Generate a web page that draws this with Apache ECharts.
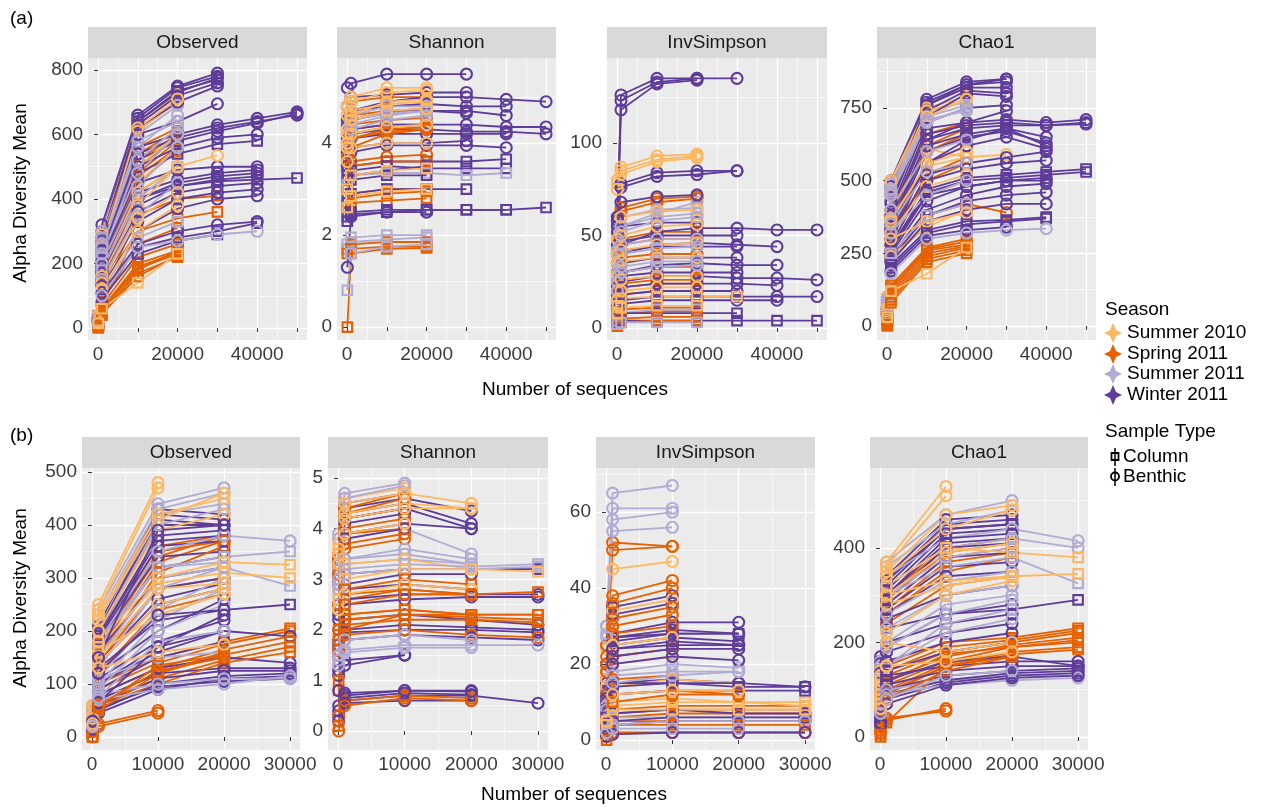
<!DOCTYPE html>
<html><head><meta charset="utf-8">
<script src="https://cdn.jsdelivr.net/npm/echarts@6/dist/echarts.min.js"></script>
<style>html,body{margin:0;padding:0;background:#fff}#c{width:1263px;height:807px}</style>
</head><body><div id="c"></div>
<script>
// ---------- categories / legend ----------
const seasons = ['Summer 2010', 'Spring 2011', 'Summer 2011', 'Winter 2011'];
const seasonColors = ['#FDB863', '#E66101', '#B2ABD2', '#5E3C99'];
const sampleTypes = ['Column', 'Benthic'];
const metrics = ['Observed', 'Shannon', 'InvSimpson', 'Chao1'];

// ---------- rarefaction depths (x values) ----------
const depthsA = [100, 1000, 10000, 20000, 30000, 40000, 50000];
const depthsB = [100, 1000, 10000, 20000, 30000];

// ---------- tick labels ----------
const xLabelsA = [0, 20000, 40000];
const xLabelsB = [0, 10000, 20000, 30000];
const yLabelsA = [[0, 200, 400, 600, 800], [0, 2, 4], [0, 50, 100], [0, 250, 500, 750]];
const yLabelsB = [[0, 100, 200, 300, 400, 500], [0, 1, 2, 3, 4, 5], [0, 20, 40, 60], [0, 200, 400]];

// ---------- series values: [season index, sample type (C=Column, B=Benthic), values at depths...] ----------
const aObserved = [
  [0,'B',40,290,640,725],[0,'B',35,260,610,700],[0,'B',35,250,620,710],[0,'B',30,220,500,600],[0,'B',30,200,450,560],
  [0,'B',25,180,420,500,535],[0,'B',25,160,380,500],[0,'B',20,140,340,420],[0,'B',20,120,300,380],[0,'C',15,60,140,230],
  [1,'B',30,200,560,620],[1,'B',25,190,540,610],[1,'B',28,180,520,600],[1,'B',20,170,500,590],[1,'B',25,160,480,580],
  [1,'B',20,150,470,560],[1,'B',25,150,450,550],[1,'B',22,140,420,500],[1,'C',20,100,350,400,410],[1,'C',15,80,300,340,360],
  [1,'B',12,80,260,310],[1,'B',10,70,220,260],[1,'C',12,60,200,240],[1,'C',10,60,190,235],[1,'C',10,55,185,230],
  [1,'C',8,50,170,220],[1,'C',5,45,160,225],[1,'C',0,40,180,240],
  [2,'B',40,300,620,700],[2,'B',35,280,600,690],[2,'B',35,260,580,640],[2,'B',30,250,560,660],[2,'B',30,220,520,620],
  [2,'B',30,230,480,600],[2,'B',25,200,440,560],[2,'C',20,180,400,500],[2,'B',20,150,350,450],[2,'C',15,120,280,330],
  [2,'B',15,100,250,270,290,300],
  [3,'B',40,320,660,750,790],[3,'B',35,300,650,745,780],[3,'C',38,290,640,735,770],[3,'B',30,280,640,730,775],
  [3,'B',30,270,630,720,760],[3,'B',30,260,620,700,750],[3,'B',30,250,600,640,695],[3,'B',30,240,560,600,630,650,670],
  [3,'B',28,230,540,590,620,640,660],[3,'B',28,220,520,580,610,635,665],[3,'B',25,210,500,560,590,600],
  [3,'C',25,200,480,540,570,580],[3,'B',20,200,450,490,500,500],[3,'B',25,190,420,460,480,490],
  [3,'B',20,180,400,450,470,480],[3,'B',22,170,400,440,460,470],[3,'C',22,160,380,440,455,460,465],
  [3,'B',20,150,360,420,440,450],[3,'B',20,140,330,400,420,430],[3,'B',18,130,300,370,400,410],
  [3,'B',15,110,260,300,320,330],[3,'C',15,100,250,280,300,325],[3,'C',15,90,230,270,290]
];
const aShannon = [
  [0,'B',4.8,5.0,5.2,5.2],[0,'B',4.6,4.9,5.1,5.15],[0,'B',4.3,4.7,4.85,4.9],[0,'B',4.2,4.6,4.9,4.95],
  [0,'B',4.0,4.5,4.7,4.75],[0,'B',3.9,4.2,4.35,4.4],[0,'B',3.6,3.9,4.0,4.0],[0,'C',3.0,3.3,3.4,3.45],[0,'C',2.6,2.85,2.95,3.0],
  [1,'B',4.6,4.9,5.0,5.0],[1,'B',4.2,4.6,4.7,4.75],[1,'B',3.9,4.4,4.5,4.55],[1,'B',4.0,4.3,4.4,4.4],
  [1,'B',3.8,4.2,4.35,4.4],[1,'B',3.5,4.1,4.3,4.35],[1,'B',3.7,4.1,4.25,4.3],[1,'B',3.4,3.9,4.2,4.3],
  [1,'B',3.0,3.6,3.7,3.75],[1,'B',3.2,3.5,3.6,3.6],[1,'C',2.7,2.9,3.0,3.0],[1,'C',2.6,2.8,2.9,2.95],
  [1,'C',2.5,2.7,2.75,2.8],[1,'C',1.7,1.8,1.85,1.85],[1,'C',1.6,1.7,1.75,1.75],[1,'C',0,1.6,1.7,1.72],
  [2,'B',4.5,4.7,4.8,4.85],[2,'B',4.3,4.6,4.8,4.8],[2,'B',4.2,4.5,4.65,4.7],[2,'B',4.0,4.4,4.6,4.7],
  [2,'B',3.9,4.3,4.5,4.6],[2,'C',3.1,3.3,3.35,3.35,3.3,3.35],[2,'C',1.8,1.95,2.0,2.0],[2,'C',1.7,1.85,1.9,1.95],
  [2,'C',0.8,1.6,1.75,1.8],
  [3,'B',5.2,5.3,5.5,5.5,5.5],[3,'B',4.8,5.0,5.05,5.1,5.1],[3,'B',4.4,4.7,4.9,5.0,5.0,4.95,4.9],
  [3,'B',4.5,4.7,4.8,4.85,4.8,4.8],[3,'B',4.1,4.5,4.65,4.7,4.65],[3,'B',4.2,4.5,4.7,4.7,4.7,4.6],
  [3,'B',4.0,4.3,4.4,4.4,4.4,4.35,4.35],[3,'B',3.9,4.2,4.3,4.3,4.25,4.25,4.2],[3,'B',3.8,4.1,4.2,4.2,4.2,4.2],
  [3,'B',3.6,3.8,3.95,3.95,3.95,3.9],[3,'B',3.5,3.9,4.0,4.0,4.05],[3,'C',3.3,3.5,3.6,3.6,3.6,3.65],
  [3,'C',3.2,3.4,3.5,3.45,3.45,3.45],[3,'C',2.8,3.3,3.4,3.5],[3,'C',3.0,3.2,3.3,3.3],[3,'C',2.7,2.9,3.0,3.0,3.0],
  [3,'C',2.3,2.45,2.5,2.55,2.55,2.55,2.6],[3,'C',2.4,2.5,2.55,2.55,2.55,2.55],[3,'B',1.3,2.4,2.5,2.5]
];
const aInvSimpson = [
  [0,'B',80,87,93,94],[0,'B',78,85,91,93],[0,'B',75,83,90,92],[0,'B',48,60,63,64],[0,'B',40,50,55,56],
  [0,'B',35,42,45,46],[0,'B',28,36,38,38],[0,'B',20,26,28,28],[0,'B',15,20,22,22],[0,'C',12,16,17,17,17],[0,'C',8,11,12,12],
  [1,'B',55,65,70,71],[1,'B',50,63,68,70],[1,'B',40,48,52,52],[1,'B',35,45,48,48],[1,'B',30,38,40,40],
  [1,'B',25,30,33,33],[1,'B',20,26,28,28],[1,'B',18,24,26,26],[1,'B',15,22,24,24],[1,'B',10,18,20,20],
  [1,'C',7,10,11,11],[1,'C',5,8,9,9],[1,'C',3,5,6,6],[1,'C',1,3,4,4],
  [2,'B',50,60,64,65],[2,'B',45,55,62,68],[2,'B',42,55,60,62],[2,'B',40,52,58,60],[2,'B',35,45,48,48],
  [2,'B',30,40,43,44],[2,'B',25,33,36,36],[2,'B',20,30,33,34],[2,'C',5,8,10,10],[2,'C',2,3,3,3],
  [3,'B',60,126,135,135,135],[3,'B',58,123,133,135],[3,'B',55,118,132,134],[3,'B',60,78,84,85,85],
  [3,'B',58,76,82,83,85],[3,'B',52,68,71,72],[3,'B',45,55,57,57],[3,'B',40,47,50,50,50],[3,'B',35,45,52,54,54,53,53],
  [3,'B',35,42,44,44,44],[3,'B',30,40,45,46,45,44],[3,'B',28,35,38,38,38],[3,'B',25,30,34,35,34,34],[3,'B',22,28,30,30,30],
  [3,'B',20,25,28,28,27,27,26],[3,'B',18,22,24,24,24,23],[3,'B',15,18,20,20,20],[3,'B',12,15,17,17,17,17,17],
  [3,'B',10,13,15,15,15,15],[3,'C',5,8,8,8,8],[3,'C',3,4,4,4,4,4,4]
];
const aChao1 = [
  [0,'B',100,500,750,790],[0,'B',90,470,740,780],[0,'B',80,450,720,780],[0,'B',70,400,610,580,590],
  [0,'B',60,370,550,580],[0,'B',60,360,560,600],[0,'B',50,320,480,520],[0,'B',60,230,360,390],[0,'B',50,240,340,400],
  [0,'B',40,300,360,390],[0,'C',30,120,180,270],
  [1,'B',60,400,660,700],[1,'B',50,380,620,680],[1,'B',55,380,600,660],[1,'B',50,350,560,620],[1,'B',45,330,500,560],
  [1,'B',45,300,520,580],[1,'B',40,280,450,500],[1,'B',40,250,380,420,390],[1,'C',20,140,270,300],[1,'C',25,130,265,290],
  [1,'C',20,120,260,280],[1,'C',15,110,250,275],[1,'C',10,100,240,270],[1,'C',5,90,230,260],[1,'C',0,80,220,250],
  [2,'B',100,490,740,770],[2,'B',90,470,720,760],[2,'B',85,460,710,740],[2,'B',80,450,700,750],[2,'B',70,400,600,640],
  [2,'B',60,350,530,560],[2,'B',50,320,450,500],[2,'C',40,250,380,420],[2,'B',30,180,300,320,330,335],
  [3,'B',100,500,780,840,850],[3,'B',90,480,770,830,840],[3,'B',90,470,760,830,850],[3,'B',90,450,760,820,820],
  [3,'B',80,430,740,810,800],[3,'B',80,420,720,800,790],[3,'B',70,400,700,750,760],[3,'B',60,330,640,700,740],
  [3,'B',70,380,680,700,710,700,710],[3,'B',65,370,660,690,700,690,700],[3,'B',60,350,640,680,690,690,695],
  [3,'B',60,340,620,660,680,650],[3,'B',55,330,600,650,670,630],[3,'B',55,320,560,640,680,620],
  [3,'B',50,300,560,620,650,610],[3,'B',50,300,520,560,580,600],[3,'B',45,280,500,540,560,570],
  [3,'C',45,270,470,510,520,530,540],[3,'C',45,260,460,500,510,520,530],[3,'B',40,260,450,480,500,500],
  [3,'B',40,250,430,480,500,510],[3,'B',40,240,400,450,480,490],[3,'B',35,230,380,430,450,460],
  [3,'B',35,220,360,400,420,420],[3,'C',30,210,330,360,365,375],[3,'C',30,200,320,350,360,370],[3,'B',30,190,310,330,340]
];
const bObserved = [
  [0,'B',60,250,480],[0,'B',55,240,470],[0,'B',50,230,420,450],[0,'B',45,220,410,460],[0,'B',40,200,390,420],
  [0,'C',35,180,300,330,325],[0,'C',30,170,290,310,300],[0,'B',30,150,280,290],[0,'B',25,140,250,280],
  [0,'B',35,160,230,270],[0,'B',25,130,160,175],
  [1,'B',50,180,360,380],[1,'B',45,175,350,370],[1,'B',45,170,340,380],[1,'B',40,160,330,370],[1,'B',40,150,310,360],
  [1,'B',35,140,280,300],[1,'B',30,120,240,270],[1,'C',30,100,150,180,205],[1,'C',30,90,140,175,200],
  [1,'C',25,80,130,165,190],[1,'C',25,70,120,155,180],[1,'C',20,65,110,145,170],[1,'C',20,60,100,140,160],
  [1,'B',15,20,45],[1,'B',10,25,50],[1,'C',0,50,120,160],[1,'C',0,55,135,155],[1,'B',0,60,125,150],
  [2,'B',60,240,440,470],[2,'B',55,230,430,460],[2,'B',55,220,420,440],[2,'B',50,200,400,430],[2,'B',45,180,350,380,370],
  [2,'B',40,180,320,330],[2,'C',40,170,320,340,350],[2,'C',35,150,300,320,285],[2,'B',30,130,280,320],
  [2,'B',30,110,240,300],[2,'B',25,100,220,280],[2,'B',25,90,200,250],[2,'B',30,110,150,160],
  [2,'B',20,80,100,110,110],[2,'B',20,70,90,100,115],[2,'B',20,75,180,200],
  [3,'B',55,210,430,420],[3,'B',50,200,420,410],[3,'B',50,200,410,400],[3,'B',50,195,400,400],[3,'B',45,190,380,390],
  [3,'B',45,190,370,380],[3,'B',45,185,360,370],[3,'B',40,180,340,350],[3,'B',40,170,320,340],[3,'B',35,160,300,320],
  [3,'B',35,150,280,300],[3,'B',35,140,260,290],[3,'B',30,140,250,280],[3,'C',30,130,220,240,250],
  [3,'B',30,120,200,260],[3,'B',25,110,180,220],[3,'B',30,100,170,200],[3,'B',25,100,160,200,190],
  [3,'B',20,90,150,180],[3,'B',20,80,130,150,140],[3,'B',20,70,120,130,130],[3,'B',15,60,110,125,125],
  [3,'B',15,50,100,115,120],[3,'B',10,45,90,110,115],[3,'B',15,55,95,105,110],[3,'B',20,65,170,230],
  [3,'B',25,120,230,240],[3,'B',30,150,390,400]
];
const bShannon = [
  [0,'B',3.8,4.6,4.8],[0,'B',3.7,4.5,4.7,4.5],[0,'B',3.5,4.3,4.5,4.4],[0,'B',3.3,3.9,4.1],[0,'B',2.8,3.3,3.4,3.2],
  [0,'C',2.6,3.0,3.2,3.2,3.15],[0,'B',2.4,2.7,2.9,2.8],[0,'B',3.6,4.2,4.4,4.4],
  [1,'B',3.5,4.4,4.7],[1,'B',3.4,4.3,4.6],[1,'B',3.3,4.2,4.4],[1,'B',3.2,4.0,4.2],[1,'B',3.2,3.9,4.0],
  [1,'B',3.0,3.7,3.9],[1,'B',3.1,3.6,3.8],[1,'B',2.5,2.6,2.8,2.7],[1,'B',2.4,2.7,2.8,2.7],
  [1,'C',2.0,2.3,2.4,2.3,2.3],[1,'C',1.4,2.3,2.4,2.3,2.3],[1,'C',1.9,2.2,2.3,2.25,2.2],[1,'C',1.8,2.1,2.2,2.2,2.15],
  [1,'B',1.6,1.9,2.0,1.9,1.85],[1,'C',1.0,2.0,2.3,2.3],[1,'C',0.8,2.8,3.0,2.9],[1,'B',0.3,0.6,0.7,0.65],
  [1,'B',0.0,0.5,0.65,0.6],[1,'C',0.1,2.5,2.7,2.7,2.75],
  [2,'B',3.9,4.7,4.9],[2,'B',3.8,4.6,4.85],[2,'B',3.2,3.8,4.0,3.5],[2,'B',3.0,3.4,3.6,3.4],[2,'B',2.9,3.3,3.4,3.3],
  [2,'B',2.8,3.4,3.5,3.3],[2,'C',2.8,3.2,3.3,3.25,3.3],[2,'C',2.7,3.1,3.2,3.2,3.25],[2,'B',1.5,1.8,1.9,1.8],
  [2,'B',1.4,1.6,1.7,1.7,1.7],[2,'B',1.3,1.55,1.65,1.65],
  [3,'B',3.5,4.5,4.7],[3,'B',3.4,4.4,4.6,4.35],[3,'B',3.3,4.3,4.5,4.1],[3,'B',3.3,4.2,4.4],[3,'B',3.2,4.2,4.4,4.0],
  [3,'B',3.1,4.1,4.3],[3,'B',3.0,3.9,4.1,4.0],[3,'B',2.9,3.8,4.0],[3,'C',2.6,3.1,3.2,3.2,3.2],[3,'B',2.5,2.9,3.1,3.1],
  [3,'B',2.3,2.8,2.9,2.8],[3,'B',2.2,2.6,2.7,2.7,2.7],[3,'B',2.0,2.5,2.6,2.65,2.65],[3,'B',1.8,2.2,2.3,2.2,2.1],
  [3,'B',1.7,2.0,2.1,2.05,2.0],[3,'B',1.6,1.95,2.0,2.0,1.95],[3,'B',1.5,1.8,1.9,1.85,1.8],[3,'B',1.2,1.4,1.5],
  [3,'B',1.1,1.3,1.5],[3,'B',0.5,0.7,0.8,0.8],[3,'B',0.4,0.65,0.75,0.72],[3,'B',0.3,0.6,0.7,0.7,0.55],
  [3,'B',0.2,0.55,0.6,0.6],[3,'B',0.8,0.75,0.8,0.78]
];
const bInvSimpson = [
  [0,'B',24,45,47],[0,'B',18,34,37],[0,'B',16,30,33],[0,'B',14,25,27],[0,'B',10,20,22],[0,'B',7,14,16,15],
  [0,'C',6,10,11,10,10],[0,'C',5,9,10,10,9],[0,'C',4,8,8,8,8],[0,'B',5,12,13,13],
  [1,'B',25,52,51],[1,'B',25,50,51],[1,'B',22,38,42],[1,'B',18,36,40],[1,'B',16,32,35],[1,'B',20,30,33],
  [1,'B',18,28,30],[1,'B',12,22,24],[1,'B',7,16,17],[1,'B',6,12,13,12],[1,'C',5,8,9,9,9],[1,'C',4,7,8,8,8],
  [1,'C',3,6,7,7,7],[1,'C',3,5,5,5,5],[1,'C',2,4,4,4,4],[1,'B',1,2,2,2,2],[1,'C',0,10,12,12],
  [2,'B',30,65,67],[2,'B',30,61,61],[2,'B',28,58,60],[2,'B',27,55,56],[2,'B',10,18,20,19],[2,'B',9,17,18,18],
  [2,'B',8,15,17,18],[2,'C',3,6,6,6,6],[2,'B',2,4,5,5,5],[2,'B',2,3,3,3],
  [3,'B',20,35,38],[3,'B',20,33,36],[3,'B',15,28,31,31],[3,'B',14,27,29,28],[3,'B',16,27,28,28],[3,'C',14,26,28,28],
  [3,'C',13,25,27,26],[3,'B',12,24,26,25],[3,'B',12,24,25,25],[3,'B',11,22,24,24],[3,'B',10,20,22,21],
  [3,'B',8,15,16,15,14],[3,'C',8,15,15,14,14],[3,'B',7,14,15,15],[3,'C',6,12,13,13,13],[3,'B',4,7,8,7,7],
  [3,'B',3,5,6,6,6],[3,'B',2,4,5,5,5],[3,'B',1,1.5,2,2,2]
];
const bChao1 = [
  [0,'B',150,370,530],[0,'B',140,360,510],[0,'B',130,350,470,490],[0,'B',120,340,440,480],[0,'B',110,300,390,410],
  [0,'C',110,320,400,390,380],[0,'C',100,300,330,340,345],[0,'B',90,280,320,340],[0,'B',80,220,300,330],
  [0,'B',70,200,180,200],[0,'B',60,150,160,180],
  [1,'B',100,300,400,420],[1,'B',95,290,390,410],[1,'B',90,280,380,400],[1,'B',85,270,370,390],[1,'B',80,260,350,380],
  [1,'B',75,240,320,340],[1,'C',70,150,200,210,230],[1,'C',70,140,190,205,225],[1,'C',65,130,180,200,220],
  [1,'C',60,120,170,195,210],[1,'C',60,115,175,190,205],[1,'C',55,110,160,190,200],[1,'C',50,100,155,180,190],
  [1,'C',45,95,150,175,185],[1,'B',40,90,150,170],[1,'B',15,40,55],[1,'B',10,35,60],[1,'C',0,30,150,180],[1,'C',5,80,140,170],
  [2,'B',160,370,470,500],[2,'B',150,360,450,480],[2,'B',140,340,420,440,415],[2,'B',130,320,400,420,400],
  [2,'B',120,300,380,400],[2,'C',120,300,360,380,325],[2,'B',110,260,330,350],[2,'B',100,230,300,320],
  [2,'B',80,200,280,300],[2,'B',90,190,260,290],[2,'B',80,150,220,250],[2,'B',70,150,240,270],
  [2,'B',70,100,120,130,130],[2,'B',60,90,110,120,125],[2,'B',50,80,130,140],
  [3,'B',170,340,460,470],[3,'B',160,330,450,460],[3,'B',155,330,440,450],[3,'B',150,320,440,450],[3,'B',140,310,430,440],
  [3,'B',135,300,410,420],[3,'B',130,300,420,430],[3,'B',120,290,400,410],[3,'B',110,280,380,390],[3,'B',100,270,360,370],
  [3,'B',90,260,340,350],[3,'B',80,250,300,320],[3,'C',80,230,260,270,290],[3,'B',70,200,240,260],[3,'B',70,190,260,280],
  [3,'B',60,180,220,240],[3,'B',60,160,200,220],[3,'B',50,140,180,200],[3,'B',50,130,150,160,160],[3,'B',45,120,160,170,150],
  [3,'B',40,110,140,150,150],[3,'B',40,100,130,140,145],[3,'B',30,90,120,135,140],[3,'B',30,80,115,130,135],
  [3,'B',25,70,110,125,130]
];

// ---------- layout (positions / scales, not data) ----------
const FONT = '"Liberation Sans", Arial, Helvetica, sans-serif';
const rowA = { top: 58, height: 282, lefts: [88, 337, 607, 877], widths: [219, 219, 220, 219] };
const rowB = { top: 468, height: 282, lefts: [82, 328, 596, 870], widths: [218, 220, 219, 218] };
const xRangeA = [-2500, 52500], xRangeB = [-1500, 31500];
const yRangesA = [[-37, 837], [-0.28, 5.85], [-6.5, 146], [-48, 922]];
const yRangesB = [[-24.5, 507.5], [-0.375, 5.2], [-2.6, 71.6], [-27.5, 569]];
const xMajorA = [0, 10000, 20000, 30000, 40000, 50000], xMinorA = [5000, 15000, 25000, 35000, 45000];
const xMajorB = [0, 10000, 20000, 30000], xMinorB = [5000, 15000, 25000];
const yMajorA = yLabelsA;
const yMinorA = [[100, 300, 500, 700], [1, 3, 5], [25, 75, 125], [125, 375, 625, 875]];
const yMajorB = yLabelsB;
const yMinorB = [[50, 150, 250, 350, 450], [0.5, 1.5, 2.5, 3.5, 4.5], [10, 30, 50, 70], [100, 300, 500]];

const grids = [], xAxes = [], yAxes = [], series = [], graphics = [];
const labelStyle = { color: '#3A3A3A', fontSize: 19, fontFamily: FONT };

// interleave samples of different seasons (draw order like per-sample groups)
function interleave(rows) {
  const groups = [[], [], [], []];
  rows.forEach(r => groups[r[0]].push(r));
  const out = [];
  const n = Math.max(...groups.map(g => g.length));
  for (let k = 0; k < n; k++) {
    [3, 1, 2, 0].forEach(s => {
      const g = groups[s];
      const idx = Math.floor(k * g.length / n);
      if (g.length && Math.floor((k + 1) * g.length / n) > idx) out.push(g[idx]);
    });
  }
  return out;
}

function addPanel(row, i, xRange, yRange, xMaj, xMin, xLab, yMaj, yMin, yLab, rows, depths, title) {
  const gi = grids.length;
  const left = row.lefts[i], width = row.widths[i];
  grids.push({ left: left, top: row.top, width: width, height: row.height, show: true,
    backgroundColor: '#EBEBEB', borderWidth: 0, containLabel: false });
  const base = { type: 'value', gridIndex: gi, scale: false };
  xAxes.push(Object.assign({}, base, { min: xRange[0], max: xRange[1], position: 'bottom',
    axisLine: { show: false },
    axisTick: { show: true, length: 4, lineStyle: { color: '#333', width: 1 }, customValues: xMaj },
    axisLabel: Object.assign({ show: true, margin: 5, customValues: xLab, formatter: v => String(v) }, labelStyle),
    splitLine: { show: true, lineStyle: { color: '#FFFFFF', width: 1.3 } } }));
  xAxes.push(Object.assign({}, base, { min: xRange[0], max: xRange[1], position: 'top',
    axisLine: { show: false }, axisTick: { show: false, customValues: xMin }, axisLabel: { show: false },
    splitLine: { show: true, lineStyle: { color: '#FFFFFF', width: 0.6 } } }));
  yAxes.push(Object.assign({}, base, { min: yRange[0], max: yRange[1], position: 'left',
    axisLine: { show: false },
    axisTick: { show: true, length: 4, lineStyle: { color: '#333', width: 1 }, customValues: yMaj },
    axisLabel: Object.assign({ show: true, margin: 5, customValues: yLab, formatter: v => String(v) }, labelStyle),
    splitLine: { show: true, lineStyle: { color: '#FFFFFF', width: 1.3 } } }));
  yAxes.push(Object.assign({}, base, { min: yRange[0], max: yRange[1], position: 'right',
    axisLine: { show: false }, axisTick: { show: false, customValues: yMin }, axisLabel: { show: false },
    splitLine: { show: true, lineStyle: { color: '#FFFFFF', width: 0.6 } } }));
  const xi = xAxes.length - 2, yi = yAxes.length - 2;
  interleave(rows).forEach(r => {
    const col = seasonColors[r[0]];
    const isCol = r[1] === 'C';
    series.push({
      type: 'line', name: seasons[r[0]], xAxisIndex: xi, yAxisIndex: yi,
      data: r.slice(2).map((v, k) => [depths[k], v]),
      symbol: isCol ? 'rect' : 'circle', symbolSize: isCol ? 9.5 : 11,
      showSymbol: true, showAllSymbol: true, silent: true, clip: true,
      lineStyle: { color: col, width: 1.8 },
      itemStyle: { color: 'rgba(255,255,255,0)', borderColor: col, borderWidth: 2.1 },
      emphasis: { disabled: true }
    });
  });
  // facet strip
  graphics.push({ type: 'rect', shape: { x: left, y: row.top - 31, width: width, height: 31 },
    style: { fill: '#D9D9D9' }, silent: true });
  graphics.push({ type: 'text', style: { x: left + width / 2, y: row.top - 15.5, text: title,
    textAlign: 'center', textVerticalAlign: 'middle', font: '19px ' + FONT, fill: '#1A1A1A' }, silent: true });
}

const dataA = [aObserved, aShannon, aInvSimpson, aChao1];
const dataB = [bObserved, bShannon, bInvSimpson, bChao1];
for (let i = 0; i < 4; i++) {
  addPanel(rowA, i, xRangeA, yRangesA[i], xMajorA, xMinorA, xLabelsA, yMajorA[i], yMinorA[i], yLabelsA[i], dataA[i], depthsA, metrics[i]);
}
for (let i = 0; i < 4; i++) {
  addPanel(rowB, i, xRangeB, yRangesB[i], xMajorB, xMinorB, xLabelsB, yMajorB[i], yMinorB[i], yLabelsB[i], dataB[i], depthsB, metrics[i]);
}

// ---------- titles, labels ----------
function txt(x, y, s, opts) {
  graphics.push(Object.assign({ type: 'text', silent: true, style: Object.assign({ x: x, y: y, text: s,
    textAlign: 'left', textVerticalAlign: 'middle', font: '19px ' + FONT, fill: '#000' }, (opts || {})) }));
}
txt(10, 19, '(a)');
txt(10, 436, '(b)');
txt(575, 390, 'Number of sequences', { textAlign: 'center' });
txt(574, 795, 'Number of sequences', { textAlign: 'center' });
graphics.push({ type: 'text', silent: true, x: 21, y: 193, rotation: Math.PI / 2,
  style: { x: 0, y: 0, text: 'Alpha Diversity Mean', textAlign: 'center', textVerticalAlign: 'middle', font: '19px ' + FONT, fill: '#000' } });
graphics.push({ type: 'text', silent: true, x: 21, y: 598, rotation: Math.PI / 2,
  style: { x: 0, y: 0, text: 'Alpha Diversity Mean', textAlign: 'center', textVerticalAlign: 'middle', font: '19px ' + FONT, fill: '#000' } });

// ---------- legend ----------
txt(1105, 310, 'Season');
const legendYs = [333, 354, 374, 395];
seasons.forEach((s, k) => {
  const cy = legendYs[k], cx = 1113;
  graphics.push({ type: 'polygon', silent: true, shape: { points: [
    [cx, cy - 10], [cx + 3, cy - 3], [cx + 9, cy], [cx + 3, cy + 3], [cx, cy + 10], [cx - 3, cy + 3], [cx - 9, cy], [cx - 3, cy - 3]] },
    style: { fill: seasonColors[k] } });
  txt(1127, cy, s);
});
txt(1105, 432, 'Sample Type');
const stYs = [457, 477];
sampleTypes.forEach((s, k) => {
  const cy = stYs[k], cx = 1115;
  graphics.push({ type: 'line', silent: true, shape: { x1: cx, y1: cy - 9, x2: cx, y2: cy + 9 }, style: { stroke: '#000', lineWidth: 1.5 } });
  if (k === 0) {
    graphics.push({ type: 'rect', silent: true, shape: { x: cx - 3.5, y: cy - 4, width: 7, height: 7 }, style: { fill: 'none', stroke: '#000', lineWidth: 1.8 } });
  } else {
    graphics.push({ type: 'circle', silent: true, shape: { cx: cx, cy: cy - 0.5, r: 4 }, style: { fill: 'none', stroke: '#000', lineWidth: 1.8 } });
  }
  txt(1123, cy, s);
});

const chart = echarts.init(document.getElementById('c'), null, { renderer: 'canvas' });
chart.setOption({
  animation: false,
  backgroundColor: '#FFFFFF',
  grid: grids, xAxis: xAxes, yAxis: yAxes, series: series,
  graphic: { elements: graphics }
});
</script>
</body></html>
